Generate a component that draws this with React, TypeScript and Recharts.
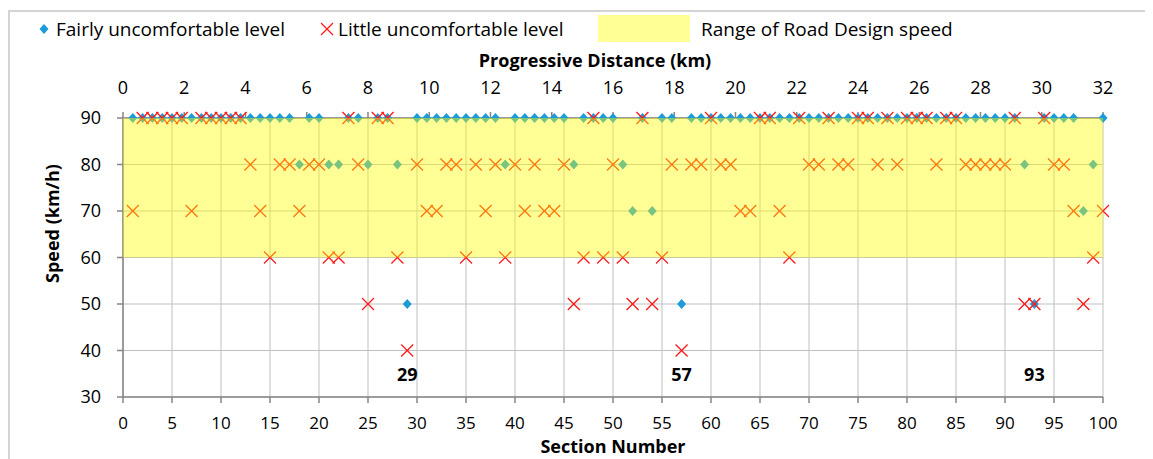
import React from "react";
import {
  ScatterChart,
  Scatter,
  XAxis,
  YAxis,
  CartesianGrid,
  ReferenceArea,
  Legend,
} from "recharts";

// Speed (km/h) per section, sections 1..100
const fairlyUncomfortable = [
  90, 90, 90, 90, 90, 90, 90, 90, 90, 90,
  90, 90, 90, 90, 90, 90, 90, 80, 90, 90,
  80, 80, 90, 90, 80, 90, 90, 80, 50, 90,
  90, 90, 90, 90, 90, 90, 90, 90, 80, 90,
  90, 90, 90, 90, 90, 80, 90, 90, 90, 90,
  80, 70, 90, 70, 90, 90, 50, 90, 90, 90,
  90, 90, 90, 90, 90, 90, 90, 90, 90, 90,
  90, 90, 90, 90, 90, 90, 90, 90, 90, 90,
  90, 90, 90, 90, 90, 90, 90, 90, 90, 90,
  90, 80, 50, 90, 90, 90, 90, 70, 80, 90,
];

const littleUncomfortable = [
  70, 90, 90, 90, 90, 90, 70, 90, 90, 90,
  90, 90, 80, 70, 60, 80, 80, 70, 80, 80,
  60, 60, 90, 80, 50, 90, 90, 60, 40, 80,
  70, 70, 80, 80, 60, 80, 70, 80, 60, 80,
  70, 80, 70, 70, 80, 50, 60, 90, 60, 80,
  60, 50, 90, 50, 60, 80, 40, 80, 80, 90,
  80, 80, 70, 70, 90, 90, 70, 60, 90, 80,
  80, 90, 80, 80, 90, 90, 80, 90, 80, 90,
  90, 90, 80, 90, 90, 80, 80, 80, 80, 80,
  90, 50, 50, 90, 80, 80, 70, 50, 60, 70,
];

const sectionTicks = [0, 5, 10, 15, 20, 25, 30, 35, 40, 45, 50, 55, 60, 65, 70, 75, 80, 85, 90, 95, 100];
const kmTicks = [0, 2, 4, 6, 8, 10, 12, 14, 16, 18, 20, 22, 24, 26, 28, 30, 32];
const speedTicks = [30, 40, 50, 60, 70, 80, 90];
const designSpeedRange = [60, 90];
const highlightedSections = [29, 57, 93];
const highlightLabelSpeed = 35;

const fairlyData = fairlyUncomfortable.map((speed, i) => ({ section: i + 1, speed }));
const littleData = littleUncomfortable.map((speed, i) => ({ section: i + 1, speed }));
const labelData = highlightedSections.map((section) => ({ section, speed: highlightLabelSpeed }));
const kmData = kmTicks.map((km) => ({ km, speed: speedTicks[speedTicks.length - 1] }));

const FONT = "'Open Sans', 'Liberation Sans', sans-serif";
const BLUE = "#1d9bd8";
const RED = "#ff1a1a";
const AXIS = "#868686";
const GRID = "#bfbfbf";

const Diamond = (props: any) => {
  const { cx, cy } = props;
  if (cx == null || cy == null) return null;
  return (
    <path
      d={`M${cx},${cy - 5} L${cx + 4.5},${cy} L${cx},${cy + 5} L${cx - 4.5},${cy} Z`}
      fill={BLUE}
    />
  );
};

const Cross = (props: any) => {
  const { cx, cy } = props;
  if (cx == null || cy == null) return null;
  const r = 6;
  return (
    <g stroke={RED} strokeWidth={1.3}>
      <line x1={cx - r} y1={cy - r} x2={cx + r} y2={cy + r} />
      <line x1={cx - r} y1={cy + r} x2={cx + r} y2={cy - r} />
    </g>
  );
};

const Nothing = () => null;

const SectionLabel = (props: any) => {
  const { cx, cy, payload } = props;
  if (cx == null || cy == null) return null;
  return (
    <text
      x={cx}
      y={cy}
      textAnchor="middle"
      dominantBaseline="central"
      fontFamily={FONT}
      fontWeight="bold"
      fontSize={18}
      fill="#000"
    >
      {payload.section}
    </text>
  );
};

const LegendContent = () => (
  <div style={{ position: "relative", height: 40, width: 1135, fontFamily: FONT, fontSize: 19, color: "#000" }}>
    <svg width={12} height={12} style={{ position: "absolute", left: 28, top: 11 }}>
      <path d="M6,1 L10.5,6 L6,11 L1.5,6 Z" fill={BLUE} />
    </svg>
    <span style={{ position: "absolute", left: 46, top: 4, whiteSpace: "nowrap", lineHeight: "26px" }}>
      Fairly uncomfortable level
    </span>
    <svg width={14} height={14} style={{ position: "absolute", left: 310, top: 10 }}>
      <g stroke={RED} strokeWidth={1.3}>
        <line x1={1} y1={1} x2={13} y2={13} />
        <line x1={1} y1={13} x2={13} y2={1} />
      </g>
    </svg>
    <span style={{ position: "absolute", left: 328, top: 4, whiteSpace: "nowrap", lineHeight: "26px" }}>
      Little uncomfortable level
    </span>
    <div style={{ position: "absolute", left: 588, top: 3, width: 92, height: 27, background: "#ffff96" }} />
    <span style={{ position: "absolute", left: 691, top: 4, whiteSpace: "nowrap", lineHeight: "26px" }}>
      Range of Road Design speed
    </span>
  </div>
);

export default function App() {
  return (
    <div
      style={{
        marginTop: 2,
        width: 1145,
        height: 449,
        borderTop: "2px solid #d4d4d4",
        borderLeft: "2px solid #d4d4d4",
        boxSizing: "border-box",
        overflow: "hidden",
      }}
    >
      <ScatterChart
        width={1135}
        height={447}
        margin={{ top: 0, right: 42, bottom: 0, left: 0 }}
        style={{ fontFamily: FONT }}
      >
        <Legend
          verticalAlign="top"
          align="left"
          height={40}
          wrapperStyle={{ top: 0, left: 0, width: 1135, height: 40, padding: 0, margin: 0 }}
          content={<LegendContent />}
        />
        <CartesianGrid stroke={GRID} strokeWidth={1} verticalValues={sectionTicks} horizontalValues={speedTicks} />
        <XAxis
          dataKey="section"
          type="number"
          domain={[0, 100]}
          ticks={sectionTicks}
          interval={0}
          height={62}
          stroke={AXIS}
          strokeWidth={1.5}
          tickSize={6}
          tickMargin={14}
          tick={{ fill: "#000", fontSize: 17, fontFamily: FONT }}
          label={{
            value: "Section Number",
            position: "insideBottom",
            offset: 6,
            fill: "#000",
            fontSize: 18,
            fontWeight: "bold",
            fontFamily: FONT,
          }}
        />
        <XAxis
          xAxisId="km"
          dataKey="km"
          orientation="top"
          type="number"
          domain={[0, 32]}
          ticks={kmTicks}
          interval={0}
          height={66}
          stroke={AXIS}
          strokeWidth={1.5}
          tickSize={6}
          tickMargin={18}
          tick={{ fill: "#000", fontSize: 18, fontFamily: FONT }}
          label={{
            value: "Progressive Distance (km)",
            position: "insideTop",
            offset: 2,
            dx: -18,
            fill: "#000",
            fontSize: 18,
            fontWeight: "bold",
            fontFamily: FONT,
          }}
        />
        <YAxis
          dataKey="speed"
          type="number"
          domain={[30, 90]}
          ticks={speedTicks}
          interval={0}
          width={113}
          stroke={AXIS}
          strokeWidth={1.5}
          tickSize={6}
          tickMargin={16}
          tick={{ fill: "#000", fontSize: 18, fontFamily: FONT }}
          label={{
            value: "Speed (km/h)",
            angle: -90,
            position: "center",
            dx: -14,
            dy: -34,
            fill: "#000",
            fontSize: 18,
            fontWeight: "bold",
            fontFamily: FONT,
          }}
        />
        <Scatter
          name="km"
          xAxisId="km"
          data={kmData}
          shape={<Nothing />}
          isAnimationActive={false}
          legendType="none"
        />
        <Scatter
          name="Fairly uncomfortable level"
          data={fairlyData}
          shape={<Diamond />}
          isAnimationActive={false}
        />
        <Scatter
          name="Little uncomfortable level"
          data={littleData}
          shape={<Cross />}
          isAnimationActive={false}
        />
        <ReferenceArea
          x1={0}
          x2={100}
          y1={designSpeedRange[0]}
          y2={designSpeedRange[1]}
          fill="#ffff00"
          fillOpacity={0.41}
          stroke="none"
          zIndex={700}
        />
        <Scatter
          name="labels"
          data={labelData}
          shape={<SectionLabel />}
          isAnimationActive={false}
          legendType="none"
        />
      </ScatterChart>
    </div>
  );
}
